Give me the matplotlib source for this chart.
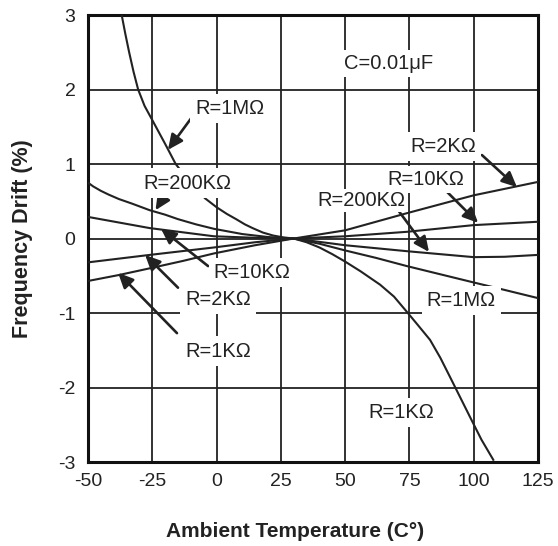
import matplotlib
matplotlib.use("Agg")
import matplotlib.pyplot as plt

plt.rcParams['font.family'] = ['Liberation Sans', 'DejaVu Sans']
plt.rcParams['axes.unicode_minus'] = False

# curves (temperature in C, drift in %)
steep_t = [-36.9, -35.5, -34, -32.3, -30.5, -28, -25, -20, -15.9, -10, -4.5, 0, 4, 7.6, 11, 14,
           18, 22, 26, 30, 35, 40, 45, 50, 56, 63.6, 69, 73.9, 78, 83, 87, 90.8, 95,
           99.2, 103, 107.6]
steep_v = [3.0, 2.75, 2.5, 2.24, 2.0, 1.78, 1.59, 1.27, 1.0, 0.74, 0.54, 0.42, 0.33, 0.26, 0.19,
           0.14, 0.08, 0.04, 0.015, 0.0, -0.05, -0.12, -0.21, -0.31, -0.44, -0.62, -0.78,
           -0.98, -1.15, -1.36, -1.6, -1.86, -2.15, -2.44, -2.7, -2.97]

r200k_t = [-50, -48, -45, -42, -38, -33, -26, -20, -15, -8, -1, 10, 20, 30, 40, 50,
           62, 74, 87, 100, 112, 125]
r200k_v = [0.75, 0.70, 0.64, 0.59, 0.53, 0.47, 0.38, 0.32, 0.26, 0.19, 0.13, 0.06, 0.02,
           0.0, -0.07, -0.16, -0.26, -0.37, -0.48, -0.59, -0.69, -0.80]

r10k_t = [-50, -26, -1, 15, 30, 50, 74, 100, 112, 125]
r10k_v = [0.29, 0.14, 0.03, 0.01, 0.0, -0.09, -0.17, -0.25, -0.245, -0.22]

r2k_t = [-50, -26, -1, 15, 30, 50, 74, 100, 125]
r2k_v = [-0.32, -0.22, -0.12, -0.05, 0.0, 0.03, 0.09, 0.18, 0.225]

r1k_t = [-50, -38, -26, -13, -1, 15, 30, 50, 74, 100, 125]
r1k_v = [-0.57, -0.49, -0.40, -0.30, -0.20, -0.09, 0.0, 0.11, 0.34, 0.58, 0.76]

x_ticks = [-50, -25, 0, 25, 50, 75, 100, 125]
y_ticks = [-3, -2, -1, 0, 1, 2, 3]

# (label, text centre, arrow start, arrow tip, box padding)
notes = [
    ("R=1M\u03a9", (5.2, 1.75), (-9.55, 1.63), (-18.9, 1.19), 0.25),
    ("R=200K\u03a9", (-11.3, 0.745), (-19.3, 0.62), (-23.75, 0.38), 0.25),
    ("R=10K\u03a9", (13.8, -0.45), (-3.3, -0.37), (-21.6, 0.13), 0.25),
    ("R=2K\u03a9", (0.6, -0.82), (-15.0, -0.66), (-27.8, -0.22), 0.25),
    ("R=1K\u03a9", (0.6, -1.51), (-15.4, -1.27), (-38.3, -0.46), 0.25),
    ("R=2K\u03a9", (88.1, 1.24), (103.2, 1.12), (116.8, 0.69), 0.25),
    ("R=10K\u03a9", (81.4, 0.79), (86.9, 0.72), (101.7, 0.21), 0.2),
    ("R=200K\u03a9", (56.4, 0.51), (70.6, 0.38), (82.6, -0.18), 0.1),
    ("R=1M\u03a9", (95.1, -0.83), None, None, 0.25),
    ("R=1K\u03a9", (71.7, -2.34), None, None, 0.25),
]

ink = '#222222'

fig = plt.figure(figsize=(5.58, 5.46), dpi=100)
ax = fig.add_axes([0.1577, 0.1538, 0.8065, 0.8187])

for t, v in [(steep_t, steep_v), (r200k_t, r200k_v), (r10k_t, r10k_v),
             (r2k_t, r2k_v), (r1k_t, r1k_v)]:
    ax.plot(t, v, color=ink, lw=1.5, solid_joinstyle='round', zorder=3)

ax.set_xlim(-50, 125)
ax.set_ylim(-3, 3)
ax.set_xticks(x_ticks)
ax.set_yticks(y_ticks)
ax.grid(True, color=ink, lw=1.3)
ax.set_axisbelow(True)
ax.tick_params(length=0, labelsize=14, colors=ink)
ax.tick_params(axis='x', pad=8)
ax.tick_params(axis='y', pad=9)
for s in ax.spines.values():
    s.set_linewidth(2.2)
    s.set_color('#111111')

ax.text(67.05, 2.35, "C=0.01\u03bcF", fontsize=14.5, color=ink,
        ha='center', va='center', zorder=5,
        bbox=dict(boxstyle='square,pad=0.2', fc='white', ec='none'))

for label, xy_text, start, tip, pad in notes:
    if tip is not None:
        ax.annotate('', xy=tip, xytext=start, zorder=4,
                    arrowprops=dict(arrowstyle='-|>,head_length=0.6,head_width=0.28',
                                    mutation_scale=15, lw=1.9, color=ink,
                                    shrinkA=0, shrinkB=0))
    ax.text(xy_text[0], xy_text[1], label, fontsize=14.5, color=ink,
            ha='center', va='center', zorder=5,
            bbox=dict(boxstyle=f'square,pad={pad}', fc='white', ec='none'))

ax.set_xlabel("Ambient Temperature (C\u00b0)", fontsize=15, fontweight='bold', color=ink)
ax.set_ylabel("Frequency Drift (%)", fontsize=15.5, fontweight='bold', color=ink)
ax.xaxis.set_label_coords(0.46, -0.135)
ax.yaxis.set_label_coords(-0.122, 0.5)

fig.savefig("out.png", dpi=100)
